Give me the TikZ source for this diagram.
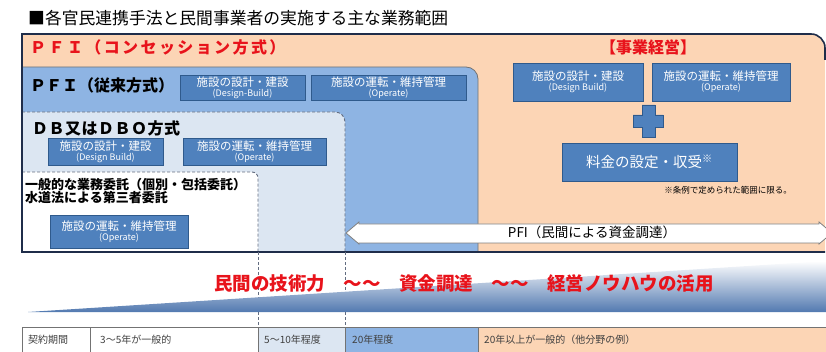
\documentclass[tikz,border=0pt]{standalone}
\usepackage{fontspec}
\setmainfont{Noto Sans CJK JP}
\usetikzlibrary{calc}

\definecolor{peach}{HTML}{FCD5B5}
\definecolor{midblue}{HTML}{8EB4E3}
\definecolor{paleblue}{HTML}{DCE6F2}
\definecolor{boxblue}{HTML}{4F81BD}
\definecolor{boxedge}{HTML}{2F5A8C}
\definecolor{navy}{HTML}{1F2D4A}
\definecolor{pfired}{HTML}{E8131B}
\definecolor{wedgeblue}{HTML}{5279B0}

\newcommand{\fs}[1]{\fontsize{#1}{#1}\selectfont}
\newcommand{\twoline}[2]{#1\\[-1.5pt]{\fs{9}#2}}

\tikzset{
	workbox/.style={draw=boxedge, fill=boxblue, text=white, align=center, inner sep=0pt, font=\fs{11.5}},
	hdr/.style={anchor=west, inner sep=0pt, font=\bfseries\fs{16}},
	dashbox/.style={draw=navy!70, dash pattern=on 3pt off 2pt, line width=0.9pt},
	cell/.style={draw=black!55, line width=0.6pt},
	celltext/.style={anchor=west, inner sep=0pt, text=black!75, font=\fs{10}}
}

\begin{document}
\begin{tikzpicture}[x=1pt, y=-1pt]
	\useasboundingbox (0,0) rectangle (826,352);
	
	% titre
	\node[anchor=west, inner sep=0pt, font=\fs{16.8}] (title) at (28,18) {■各官民連携手法と民間事業者の実施する主な業務範囲};
	
	% cadres
	\fill[peach] (22,252) -- (22,34) [rounded corners=14] -- (825,34) [sharp corners] -- (825,252) -- cycle;
	\filldraw[fill=midblue, draw=black!55, line width=0.8pt] (22,252) -- (22,67) [rounded corners=12] -- (478,67) [sharp corners] -- (478,252);
	\fill[paleblue] (22,252) -- (22,112) [rounded corners=10] -- (345,112) [sharp corners] -- (345,252) -- cycle;
	\draw[dashbox] (22,112) [rounded corners=10] -- (345,112) [sharp corners] -- (345,252);
	\fill[white] (22,252) -- (22,172) [rounded corners=6] -- (258,172) [sharp corners] -- (258,252) -- cycle;
	\draw[dashbox] (22,172) [rounded corners=6] -- (258,172) [sharp corners] -- (258,252);
	\draw[navy, line width=1.6pt] (825,252) -- (22,252) -- (22,34) [rounded corners=14] -- (825,34) [sharp corners] -- (825,60);
	
	% en-tetes
	\node[hdr, text=pfired] (hconc) at (30,47) {\addfontfeature{LetterSpace=15}ＰＦＩ（コンセッション方式）};
	\node[hdr] (htrad) at (30,85) {ＰＦＩ（従来方式）};
	\node[hdr] (hdb) at (32,128) {\addfontfeature{LetterSpace=3}ＤＢ又はＤＢＯ方式};
	\node[anchor=north west, inner sep=0pt, align=left, font=\bfseries\fs{13}] (hgen) at (25,178) {一般的な業務委託（個別・包括委託）\\水道法による第三者委託};
	\node[inner sep=0pt, text=pfired, font=\bfseries\fs{16}] (hbiz) at (648,47) {【事業経営】};
	
	% PFI (traditionnel)
	\node[workbox, minimum width=125pt, minimum height=25pt] (tradDB) at (242.5,87.5) {\twoline{施設の設計・建設}{(Design-Build)}};
	\node[workbox, minimum width=155pt, minimum height=25pt] (tradOp) at (388.5,87.5) {\twoline{施設の運転・維持管理}{(Operate)}};
	
	% DB / DBO
	\node[workbox, minimum width=115pt, minimum height=27pt] (dbDB) at (105.5,151.5) {\twoline{施設の設計・建設}{(Design Build)}};
	\node[workbox, minimum width=143pt, minimum height=27pt] (dbOp) at (254.5,151.5) {\twoline{施設の運転・維持管理}{(Operate)}};
	
	% externalisation
	\node[workbox, minimum width=138pt, minimum height=33pt] (genOp) at (119,231.5) {\twoline{施設の運転・維持管理}{(Operate)}};
	
	% concession
	\node[workbox, minimum width=130pt, minimum height=38pt] (concDB) at (578,82) {\twoline{施設の設計・建設}{(Design Build)}};
	\node[workbox, minimum width=138pt, minimum height=38pt] (concOp) at (721,82) {\twoline{施設の運転・維持管理}{(Operate)}};
	\filldraw[fill=boxblue, draw=boxedge] (642,105) -- (655,105) -- (655,115) -- (663,115) -- (663,127) -- (655,127) -- (655,137) -- (642,137) -- (642,127) -- (633,127) -- (633,115) -- (642,115) -- cycle;
	\node[workbox, minimum width=175pt, minimum height=38pt, font=\fs{14.5}] (fee) at (649.5,162) {料金の設定・収受\textsuperscript{※}};
	\node[anchor=east, inner sep=0pt, font=\fs{8.5}] (note) at (792,190) {※条例で定められた範囲に限る。};
	
	% fleche PFI
	\filldraw[fill=white, draw=black!50, line width=0.8pt] (346,233) -- (359,222) -- (359,224) -- (819,224) -- (819,222) -- (832,233) -- (819,244) -- (819,243) -- (359,243) -- (359,244) -- cycle;
	\node[inner sep=0pt, font=\fs{13.5}] (pfitext) at (592,232) {PFI（民間による資金調達）};
	
	% traits pointilles
	\draw[navy!70, dash pattern=on 3pt off 2pt, line width=0.9pt] (258,252) -- (258,327);
	\draw[navy!70, dash pattern=on 3pt off 2pt, line width=0.9pt] (345,252) -- (345,327);
	
	% coin
	\shade[top color=white, bottom color=wedgeblue] (28,312) -- (826,261) -- (826,312) -- cycle;
	\node[inner sep=0pt, text=pfired, font=\bfseries\fs{18.5}] (slogan) at (464,283) {民間の技術力　～～　資金調達　～～　経営ノウハウの活用};
	
	% tableau
	\filldraw[cell, fill=white] (22,327) rectangle (90,362);
	\filldraw[cell, fill=white] (90,327) rectangle (258,362);
	\filldraw[cell, fill=paleblue] (258,327) rectangle (345,362);
	\filldraw[cell, fill=midblue] (345,327) rectangle (478,362);
	\filldraw[cell, fill=peach] (478,327) rectangle (830,362);
	\node[celltext] (c1) at (28,340) {契約期間};
	\node[celltext] (c2) at (100,340) {3～5年が一般的};
	\node[celltext] (c3) at (264,340) {5～10年程度};
	\node[celltext] (c4) at (352,340) {20年程度};
	\node[celltext] (c5) at (484,340) {20年以上が一般的（他分野の例）};
\end{tikzpicture}
\end{document}
